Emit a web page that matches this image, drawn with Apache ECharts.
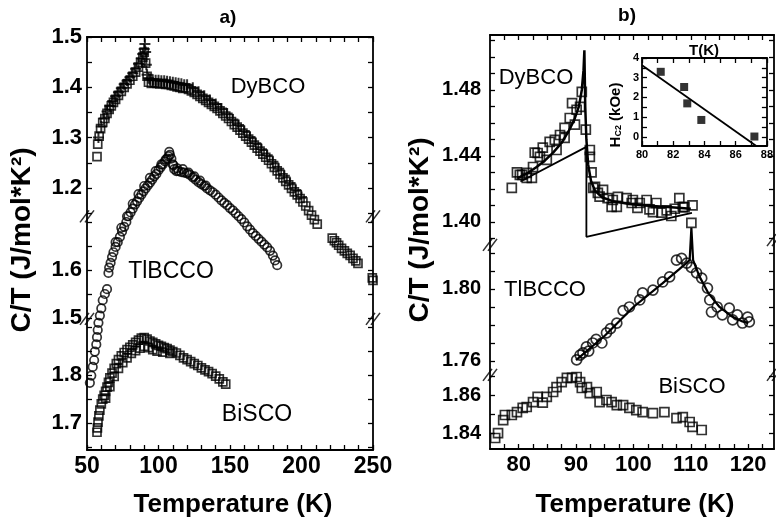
<!DOCTYPE html>
<html><head><meta charset="utf-8">
<script src="https://cdn.jsdelivr.net/npm/echarts@6/dist/echarts.min.js"></script>
<style>html,body{margin:0;padding:0;background:#fff}#c{width:776px;height:519px}</style>
</head><body><div id="c"></div>
<script>
// ---------------- DATA ----------------
// Panel a) x ticks and segment labels
const xTicksA = [50, 100, 150, 200, 250];
const dyLabelsA = [1.2, 1.3, 1.4, 1.5];
const tlLabelsA = [1.5, 1.6];
const biLabelsA = [1.7, 1.8];
const dyTicksA = [1.15, 1.2, 1.25, 1.3, 1.35, 1.4, 1.45, 1.5];
const tlTicksA = [1.5, 1.55, 1.6, 1.65, 1.7];
const biTicksA = [1.65, 1.7, 1.75, 1.8, 1.85, 1.9];
// Panel b)
const xLabelsB = [80, 90, 100, 110, 120];
const xTicksB = [77.5, 80, 82.5, 85, 87.5, 90, 92.5, 95, 97.5, 100, 102.5, 105, 107.5, 110, 112.5, 115, 117.5, 120, 122.5];
const dyLabelsB = [1.40, 1.44, 1.48];
const tlLabelsB = [1.76, 1.80];
const biLabelsB = [1.84, 1.86];
const dyTicksB = [1.39, 1.40, 1.41, 1.42, 1.43, 1.44, 1.45, 1.46, 1.47, 1.48, 1.49, 1.50, 1.51];
const tlTicksB = [1.76, 1.77, 1.78, 1.79, 1.80, 1.81, 1.82];
const biTicksB = [1.84, 1.85, 1.86, 1.87];
// Inset
const insetX = [80, 82, 84, 86, 88];
const insetY = [0, 1, 2, 3, 4];

// DyBCO, panel a (squares)
const dyA_squares = [[57,1.262],[57.5,1.287],[58.5,1.303],[59.5,1.318],[61,1.33],[62.5,1.338],[64,1.348],[65.5,1.356],[67,1.363],[68.5,1.37],[70,1.376],[72,1.384],[74,1.392],[76,1.4],[78,1.407],[80,1.414],[82,1.422],[84,1.43],[86,1.44],[87.5,1.449],[89,1.46],[90,1.47],[91,1.448],[92,1.422],[93,1.41],[95,1.408],[97,1.409],[99,1.408],[101,1.407],[103,1.408],[105,1.406],[107,1.406],[109,1.404],[111,1.403],[113,1.401],[115,1.4],[117,1.398],
[119,1.399],[121,1.396],[123,1.393],[125,1.39],[127,1.386],[129,1.382],[131,1.378],[133,1.374],[135,1.37],[137,1.366],[139,1.362],[141,1.358],[143,1.353],[145,1.348],[147,1.343],[149,1.338],[151,1.332],[153,1.326],[155,1.321],[157,1.315],[159,1.309],[161,1.303],[163,1.297],[165,1.291],[167,1.285],[169,1.279],[171,1.273],[173,1.267],[175,1.261],[177,1.255],[179,1.248],[181,1.241],[183,1.234],[185,1.227],[187,1.22],[189,1.213],[191,1.206],[193,1.199],[195,1.192],[197,1.186],[199,1.179],[201,1.172],[203,1.164],[205,1.155],[207,1.146],[209,1.137],[211,1.128],
[221.5,1.1],[223,1.095],[224.5,1.091],[226,1.086],[228,1.08],[230,1.075],[232,1.07],[234,1.066],[236,1.06],[238,1.055],[239.5,1.05],[249.5,1.021],[250,1.016]];
// DyBCO, panel a (crosses)
const dyA_plus = [[58,1.3],[60,1.322],[62,1.338],[64,1.352],[66,1.363],[68,1.373],[70,1.382],[72,1.39],[74,1.398],[76,1.406],[78,1.413],[80,1.42],[82,1.428],[84,1.437],[86,1.447],[88,1.458],[89,1.466],[90,1.476],[90.5,1.486],[91,1.47],[91.5,1.445],[92,1.425],[93,1.418],[94,1.416],[96,1.415],[98,1.414],[100,1.414],[102,1.413],[104,1.413],[106,1.412],[108,1.411],[110,1.41],[112,1.409],[114,1.408],[116,1.407],[118,1.405],
[120,1.405],[124,1.399],[128,1.391],[132,1.383],[136,1.375],[140,1.367],[144,1.358],[148,1.348],[152,1.336],[156,1.325],[160,1.313],[164,1.301],[168,1.289],[172,1.277],[176,1.265],[180,1.252],[184,1.238],[188,1.224],[192,1.21],[196,1.196],[200,1.182]];
// TlBCCO, panel a (circles)
const tlA_circles = [[52,1.365],[53,1.38],[54,1.398],[55,1.412],[55.5,1.43],[56.5,1.445],[57,1.46],[57.5,1.475],[58,1.49],[59,1.505],[60,1.52],[61,1.537],[62.5,1.55],[64,1.56],
[65,1.594],[65.5,1.605],[66.5,1.615],[67.5,1.627],[68.5,1.637],[70,1.648],[71.5,1.658],[73,1.669],[74.5,1.68],[76,1.69],[77.5,1.7],[79,1.712],[80.5,1.72],[82,1.728],[83.5,1.736],[85,1.743],[86.5,1.75],[88,1.757],[89.5,1.764],[91,1.77],[92.5,1.776],[94,1.782],[95.5,1.788],[97,1.795],[98.5,1.8],[100,1.808],[101.5,1.814],[103,1.82],[104.5,1.826],[106,1.832],[107,1.837],[108,1.84],[109,1.832],[110,1.82],[111,1.81],[112.5,1.806],[114,1.806],[116,1.804],[118,1.803],[120,1.801],[122,1.798],[124,1.793],[126,1.788],[128,1.783],[130,1.779],[132,1.775],[134,1.77],[136,1.766],[138,1.762],[140,1.757],[142,1.751],[144,1.745],[146,1.74],[148,1.735],[150,1.729],[152,1.724],[154,1.718],[156,1.712],[158,1.706],[160,1.699],[162,1.691],[164,1.684],[166,1.677],[168,1.671],[170,1.665],[172,1.659],[174,1.653],[176,1.647],[178,1.64],[180,1.63],[181.5,1.62],[183,1.61],
[70,1.658],[74,1.688],[78,1.712],[82,1.738],[86,1.758],[90,1.775],[94,1.792],[98,1.806],[102,1.82],[105,1.83],[107.5,1.846],[110.5,1.818],[113,1.812],[117,1.81],[121,1.803],[125,1.795],[129,1.786],[133,1.776]];
// BiSCO, panel a (squares)
const biA_squares = [[57,1.681],[57.3,1.69],[57.7,1.702],[58.3,1.715],[59,1.727],[60,1.74],[61,1.75],[62,1.758],[63,1.766],[64,1.775],[65,1.785],[66,1.794],[67.5,1.804],[69,1.814],[70.5,1.824],[72,1.832],[74,1.84],[76,1.847],[78,1.853],[80,1.858],[82,1.863],[84,1.868],[86,1.873],[88,1.877],[90,1.878],[92,1.875],[94,1.871],[96,1.868],[98,1.865],[100,1.862],[102,1.86],[104,1.857],[106,1.855],[108,1.852],[110,1.849],[112.5,1.846],[115,1.841],[117.5,1.836],[120,1.832],[122.5,1.828],[125,1.824],[127.5,1.82],[130,1.815],[132.5,1.811],[135,1.807],[137.5,1.803],[140,1.798],[142.5,1.792],[145,1.786],[147,1.781],
[63,1.752],[66,1.776],[69,1.797],[72,1.814],[75,1.826],[78,1.836],[81,1.845],[84,1.851],[87,1.856],[90,1.86],[93,1.857],[96,1.853],[99,1.85],[103,1.848],[108,1.845]];

// DyBCO, panel b
const dyB_squares = [[78.8,1.4206],[79.7,1.430],[80.2,1.4285],[80.6,1.4285],[81.4,1.4297],[81.4,1.4267],[82.3,1.4267],[82.5,1.4333],[82.8,1.442],[83.3,1.4418],[83.7,1.4394],[84.2,1.445],[84.9,1.4376],[85.4,1.4485],[86.3,1.4497],[86.6,1.4436],[87.2,1.4527],[88.0,1.457],[88.0,1.451],[88.9,1.463],[89.3,1.472],[89.8,1.459],[90.1,1.468],[90.7,1.4697],[91.0,1.4788],[91.7,1.456],[92.4,1.4436],[92.4,1.4394],[92.7,1.430],[93.0,1.4206],[93.3,1.4212],[93.8,1.4176],[94.1,1.4153],[94.7,1.4194],[95.5,1.4145],[96.2,1.4091],[96.4,1.4133],[97.1,1.4091],[97.3,1.4152],[98.8,1.4145],[99.7,1.4115],[99.9,1.4133],[100.7,1.4085],[101.1,1.4115],[102.3,1.4133],[102.8,1.4076],[103.4,1.406],[104.0,1.4115],[104.9,1.4057],[105.8,1.407],[106.6,1.4036],[107.2,1.408],[108.0,1.4145],[108.6,1.409],[108.9,1.409],[110.3,1.41],[110.1,1.3994]];
const dyB_fit = [[79.8,1.4265],[81.5,1.4295],[83,1.433],[84.5,1.437],[86,1.442],[87.5,1.448],[88.7,1.455],[89.7,1.462],[90.5,1.47],[91,1.48],[91.3,1.492],[91.45,1.504],[91.6,1.47],[91.8,1.45],[92.1,1.435],[92.6,1.425],[93.3,1.419],[94.5,1.415],[96.5,1.4125],[99,1.411],[102,1.41],[106,1.409],[110,1.408]];
const dyB_meanField = [[80.3,1.4245],[91.8,1.4455],[91.8,1.391],[110.2,1.4055]];
// TlBCCO, panel b
const tlB_circles = [[90.1,1.7606],[90.7,1.7633],[91.2,1.7645],[91.8,1.7678],[92.2,1.7655],[92.9,1.77],[93.5,1.772],[94.5,1.77],[95.3,1.7756],[96,1.778],[97.1,1.781],[98.2,1.788],[99.3,1.79],[101.1,1.7939],[101.6,1.7978],[103.4,1.7994],[105.1,1.8039],[106.3,1.8067],[107.5,1.816],[108.4,1.817],[109.3,1.8144],[110.1,1.812],[111,1.809],[111.9,1.806],[112.9,1.8005],[113.3,1.7939],[113.6,1.7872],[114.6,1.79],[115.5,1.7856],[116.7,1.7894],[117.3,1.7828],[118.1,1.7856],[119,1.7811],[119.9,1.7844],[120.2,1.7817]];
const tlB_fit = [[90,1.7605],[95,1.774],[100,1.79],[105,1.803],[108,1.811],[109.8,1.816],[110.1,1.834],[110.4,1.816],[111.5,1.807],[113,1.798],[115,1.79],[117,1.785],[119,1.782],[120,1.781]];
// BiSCO, panel b
const biB_squares = [[75.9,1.8374],[76.4,1.84],[77.3,1.8468],[77.6,1.8495],[78.8,1.8495],[79.7,1.851],[80.7,1.8532],[81.4,1.8537],[82.5,1.8563],[83.3,1.859],[84.2,1.856],[84.9,1.859],[86,1.8616],[86.6,1.8642],[87.5,1.8668],[88.4,1.869],[89.3,1.869],[90.1,1.8695],[90.7,1.8668],[91,1.8637],[91.9,1.8642],[92.4,1.861],[93.6,1.8616],[94.1,1.8563],[95.3,1.8574],[96.2,1.8563],[97.1,1.8547],[98.2,1.8547],[99.3,1.8532],[100.5,1.8521],[101.6,1.851],[103.4,1.8505],[105.4,1.851],[107.5,1.8479],[108.6,1.8484],[109.8,1.8458],[110.3,1.8432],[111.9,1.8416]];
// Inset Hc2(T)
const inset_points = [[81.2,3.3],[82.7,2.53],[82.9,1.7],[83.8,0.86],[87.2,0.02]];
const inset_line = [[80,3.63],[87.3,-0.45]];
// axis break positions (on the DyBCO scales)
const breaksA = [[50,1.1436],[50,0.9396],[250,1.1436],[250,0.9396]];
const breaksB = [[75,1.3861],[75,1.3073],[124.5,1.389],[124.5,1.3073]];

// ---------------- CHART ----------------
const FONT = '"Liberation Sans", Arial, Helvetica, sans-serif';
const chart = echarts.init(document.getElementById('c'));

function yax(grid, min, max, pos, line, labels, ticks, dec, fs, margin) {
  return {
    type: 'value', gridIndex: grid, min: min, max: max, position: pos,
    axisLine: {show: line, onZero: false, lineStyle: {color: '#000', width: 1.8}},
    axisTick: {show: true, inside: true, length: 5, customValues: ticks, lineStyle: {color: '#000', width: 1.3}},
    axisLabel: {show: !!labels, customValues: labels || [], formatter: function (v) { return Number(v).toFixed(dec); },
      color: '#000', fontSize: fs, fontWeight: 'bold', fontFamily: FONT, margin: margin},
    splitLine: {show: false}
  };
}
function xax(grid, min, max, pos, labels, ticks, fs, margin) {
  return {
    type: 'value', gridIndex: grid, min: min, max: max, position: pos,
    axisLine: {show: true, onZero: false, lineStyle: {color: '#000', width: 1.8}},
    axisTick: {show: true, inside: true, length: 5, customValues: ticks, lineStyle: {color: '#000', width: 1.3}},
    axisLabel: {show: !!labels, customValues: labels || [], color: '#000', fontSize: fs, fontWeight: 'bold', fontFamily: FONT, margin: margin},
    splitLine: {show: false}
  };
}
const ticksA_x = [50,60,70,80,90,100,110,120,130,140,150,160,170,180,190,200,210,220,230,240,250];
const ticksI = [80,81,82,83,84,85,86,87,88];

const hollow = function (sym, size, bw) {
  return {type: 'scatter', symbol: sym, symbolSize: size,
    itemStyle: {color: 'rgba(255,255,255,0)', borderColor: '#000', borderWidth: bw}, silent: true};
};
const BREAK = 'path://M0,12 L9,0 M5,12 L14,0';
const PLUS = 'path://M5,0 L5,10 M0,5 L10,5';

const series = [];
function add(base, extra) { series.push(Object.assign({}, base, extra)); }
// panel a
add(hollow('rect', 8, 1.7), {xAxisIndex: 0, yAxisIndex: 0, data: dyA_squares});
add(hollow(PLUS, 11, 2), {xAxisIndex: 0, yAxisIndex: 0, data: dyA_plus});
add(hollow('circle', 8.5, 1.7), {xAxisIndex: 0, yAxisIndex: 1, data: tlA_circles});
add(hollow('rect', 8, 1.7), {xAxisIndex: 0, yAxisIndex: 2, data: biA_squares});
add(hollow(BREAK, [14, 12], 1.4), {xAxisIndex: 0, yAxisIndex: 0, data: breaksA, clip: false});
// panel b
add(hollow('rect', 9, 1.7), {xAxisIndex: 2, yAxisIndex: 6, data: dyB_squares});
add(hollow('circle', 10, 1.7), {xAxisIndex: 2, yAxisIndex: 7, data: tlB_circles});
add(hollow('rect', 9, 1.7), {xAxisIndex: 2, yAxisIndex: 8, data: biB_squares});
add(hollow(BREAK, [14, 12], 1.4), {xAxisIndex: 2, yAxisIndex: 6, data: breaksB, clip: false});
series.push({type: 'line', xAxisIndex: 2, yAxisIndex: 6, data: dyB_fit, showSymbol: false, silent: true, z: 5,
  lineStyle: {color: '#000', width: 2.5}});
series.push({type: 'line', xAxisIndex: 2, yAxisIndex: 6, data: dyB_meanField, showSymbol: false, silent: true, z: 5,
  lineStyle: {color: '#000', width: 1.8}});
series.push({type: 'line', xAxisIndex: 2, yAxisIndex: 7, data: tlB_fit, showSymbol: false, silent: true, z: 5,
  lineStyle: {color: '#000', width: 2.2}});
// inset
series.push({type: 'scatter', xAxisIndex: 4, yAxisIndex: 12, data: inset_points, symbol: 'rect', symbolSize: 8,
  itemStyle: {color: '#000'}, silent: true});
series.push({type: 'line', xAxisIndex: 4, yAxisIndex: 12, data: inset_line, showSymbol: false, silent: true,
  lineStyle: {color: '#000', width: 1.8}});

function txt(x, y, text, fs, weight, rot) {
  return {type: 'text', x: x, y: y, rotation: rot || 0, silent: true,
    style: {text: text, fill: '#000', fontSize: fs, fontWeight: weight, fontFamily: FONT,
      align: 'center', verticalAlign: 'middle', textAlign: 'center', textVerticalAlign: 'middle'}};
}

const option = {
  animation: false,
  backgroundColor: '#fff',
  grid: [
    {left: 87, top: 37, width: 286, height: 413},
    {left: 490, top: 35, width: 284, height: 414},
    {left: 642, top: 58, width: 126, height: 88}
  ],
  xAxis: [
    xax(0, 50, 250, 'bottom', xTicksA, ticksA_x, 23, 5),
    xax(0, 50, 250, 'top', null, ticksA_x, 23, 5),
    xax(1, 75, 124.5, 'bottom', xLabelsB, xTicksB, 22, 5),
    xax(1, 75, 124.5, 'top', null, xTicksB, 22, 5),
    xax(2, 80, 88, 'bottom', insetX, ticksI, 11, 3),
    xax(2, 80, 88, 'top', null, ticksI, 11, 3)
  ],
  yAxis: [
    yax(0, 0.679, 1.5, 'left', true, dyLabelsA, dyTicksA, 1, 22, 5),
    yax(0, 1.225, 2.0854, 'left', false, tlLabelsA, tlTicksA, 1, 22, 5),
    yax(0, 1.644, 2.504, 'left', false, biLabelsA, biTicksA, 1, 22, 5),
    yax(0, 0.679, 1.5, 'right', true, null, dyTicksA, 1, 22, 5),
    yax(0, 1.225, 2.0854, 'right', false, null, tlTicksA, 1, 22, 5),
    yax(0, 1.644, 2.504, 'right', false, null, biTicksA, 1, 22, 5),
    yax(1, 1.2624, 1.5133, 'left', true, dyLabelsB, dyTicksB, 2, 20, 9),
    yax(1, 1.7111, 1.9411, 'left', false, tlLabelsB, tlTicksB, 2, 20, 9),
    yax(1, 1.8316, 2.0495, 'left', false, biLabelsB, biTicksB, 2, 20, 9),
    yax(1, 1.2624, 1.5133, 'right', true, null, dyTicksB, 2, 20, 9),
    yax(1, 1.7111, 1.9411, 'right', false, null, tlTicksB, 2, 20, 9),
    yax(1, 1.8316, 2.0495, 'right', false, null, biTicksB, 2, 20, 9),
    yax(2, -0.46, 4, 'left', true, insetY, [0, 0.5, 1, 1.5, 2, 2.5, 3, 3.5, 4], 0, 11, 3),
    yax(2, -0.46, 4, 'right', true, null, [0, 0.5, 1, 1.5, 2, 2.5, 3, 3.5, 4], 0, 11, 3)
  ],
  series: series,
  graphic: [
    txt(228, 18, 'a)', 19, 'bold'),
    txt(627, 16, 'b)', 19, 'bold'),
    txt(22, 240, 'C/T (J/mol*K²)', 28, 'bold', Math.PI / 2),
    txt(420, 230, 'C/T (J/mol*K²)', 28, 'bold', Math.PI / 2),
    txt(233, 505, 'Temperature (K)', 26, 'bold'),
    txt(635, 505, 'Temperature (K)', 26, 'bold'),
    txt(268, 87, 'DyBCO', 22, 'normal'),
    txt(171, 272, 'TlBCCO', 23, 'normal'),
    txt(257, 415, 'BiSCO', 23, 'normal'),
    txt(536, 78, 'DyBCO', 22, 'normal'),
    txt(545, 290, 'TlBCCO', 22, 'normal'),
    txt(692, 387, 'BiSCO', 22, 'normal'),
    txt(704, 51, 'T(K)', 15, 'bold'),
    {type: 'text', x: 616, y: 115, rotation: Math.PI / 2, silent: true,
      style: {text: '{n|H}{s|C2}{n| (kOe)}', fill: '#000', align: 'center', verticalAlign: 'middle',
        textAlign: 'center', textVerticalAlign: 'middle',
        rich: {n: {fontSize: 15, fontWeight: 'bold', fontFamily: FONT, fill: '#000', verticalAlign: 'bottom'},
               s: {fontSize: 9, fontWeight: 'bold', fontFamily: FONT, fill: '#000', verticalAlign: 'bottom', padding: [6, 0, 0, 0]}}}}
  ]
};
chart.setOption(option);
</script>
</body></html>
